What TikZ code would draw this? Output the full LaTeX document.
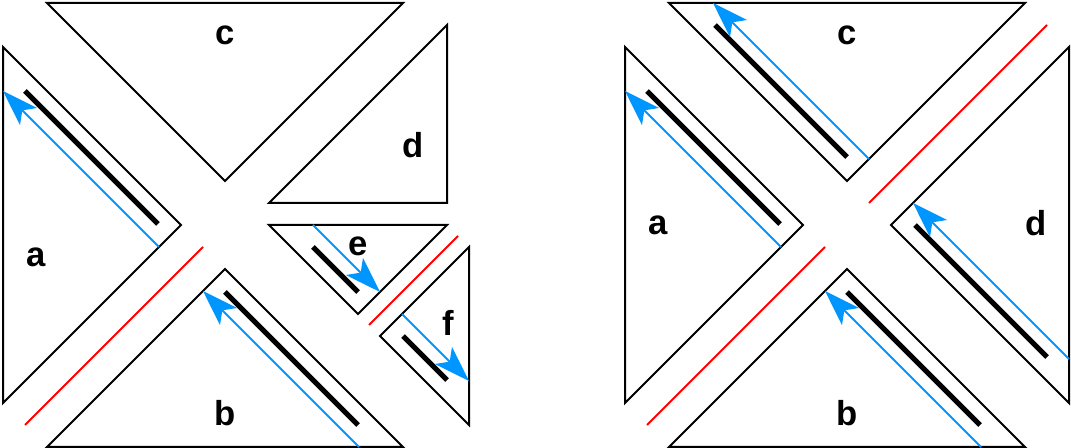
\documentclass[tikz,border=0pt]{standalone}
\usepackage{fontspec}
\setmainfont{Liberation Sans}
\usetikzlibrary{arrows.meta}
\definecolor{slideblue}{RGB}{0,150,255}
\begin{document}
\begin{tikzpicture}[x=0.75pt,y=-0.75pt,line width=1.5pt,
  >={Stealth[length=27pt,width=18pt,inset=6.5pt]},
  font=\fontsize{26}{30}\selectfont\bfseries,
  bar/.style={line width=3.75pt},
  slide/.style={->,slideblue,line width=1.4pt},
  seam/.style={red,line width=1.5pt}]
  \useasboundingbox (0,0) rectangle (1071,448);

  % 左图
  \begin{scope}[shift={(225,225)}]
    \coordinate (a1) at (-44,0);
    \coordinate (a2) at (-222,-178);
    \coordinate (a3) at (-222,178);
    \coordinate (c1) at (0,-44);
    \coordinate (c2) at (-178,-222);
    \coordinate (c3) at (178,-222);
    \coordinate (b1) at (0,44);
    \coordinate (b2) at (-178,222);
    \coordinate (b3) at (178,222);
    \coordinate (d1) at (44,-22);
    \coordinate (d2) at (222,-200);
    \coordinate (d3) at (222,-22);
    \coordinate (e1) at (44,0);
    \coordinate (e2) at (222,0);
    \coordinate (e3) at (133,89);
    \coordinate (f1) at (244,22);
    \coordinate (f2) at (244,200);
    \coordinate (f3) at (155,111);

    % 三角形
    \draw (a1) -- (a2) -- (a3) -- cycle;
    \draw (c1) -- (c2) -- (c3) -- cycle;
    \draw (b1) -- (b2) -- (b3) -- cycle;
    \draw (d1) -- (d2) -- (d3) -- cycle;
    \draw (e1) -- (e2) -- (e3) -- cycle;
    \draw (f1) -- (f2) -- (f3) -- cycle;

    % 红色切线
    \draw[seam] (-200,200) -- (-22,22);
    \draw[seam] (144,100) -- (233,11);

    % 粗线与蓝色箭头
    \draw[bar] (-200,-134) -- (-67,-1);
    \draw[bar] (0,67) -- (133,200);
    \draw[bar] (88,22) -- (133,67);
    \draw[bar] (178,111) -- (222,155);
    \draw[slide] (-66,22) -- (-222,-134);
    \draw[slide] (134,222) -- (-22,66);
    \draw[slide] (88,0) -- (155,67);
    \draw[slide] (177,89) -- (244,156);

    % 标注
    \node (la) at (-189,32) {a};
    \node (lb) at (0,188) {b};
    \node (lc) at (0,-190) {c};
    \node (ld) at (188,-80) {d};
    \node (le) at (133,21) {e};
    \node (lf) at (223,98) {f};
  \end{scope}

  % 右图
  \begin{scope}[shift={(847,225)}]
    \coordinate (A1) at (-44,0);
    \coordinate (A2) at (-222,-178);
    \coordinate (A3) at (-222,178);
    \coordinate (C1) at (0,-44);
    \coordinate (C2) at (-178,-222);
    \coordinate (C3) at (178,-222);
    \coordinate (B1) at (0,44);
    \coordinate (B2) at (-178,222);
    \coordinate (B3) at (178,222);
    \coordinate (D1) at (44,0);
    \coordinate (D2) at (222,-178);
    \coordinate (D3) at (222,178);

    % 三角形
    \draw (A1) -- (A2) -- (A3) -- cycle;
    \draw (C1) -- (C2) -- (C3) -- cycle;
    \draw (B1) -- (B2) -- (B3) -- cycle;
    \draw (D1) -- (D2) -- (D3) -- cycle;

    % 红色切线
    \draw[seam] (-200,200) -- (-22,22);
    \draw[seam] (22,-22) -- (200,-200);

    % 粗线与蓝色箭头
    \draw[bar] (-200,-134) -- (-67,-1);
    \draw[bar] (0,67) -- (133,200);
    \draw[bar] (-132,-200) -- (0,-68);
    \draw[bar] (68,0) -- (200,132);
    \draw[slide] (-66,22) -- (-222,-134);
    \draw[slide] (134,222) -- (-22,66);
    \draw[slide] (22,-66) -- (-134,-222);
    \draw[slide] (222,134) -- (66,-22);

    % 标注
    \node (ra) at (-189,0) {a};
    \node (rb) at (0,188) {b};
    \node (rc) at (0,-190) {c};
    \node (rd) at (189,-2) {d};
  \end{scope}
\end{tikzpicture}
\end{document}
